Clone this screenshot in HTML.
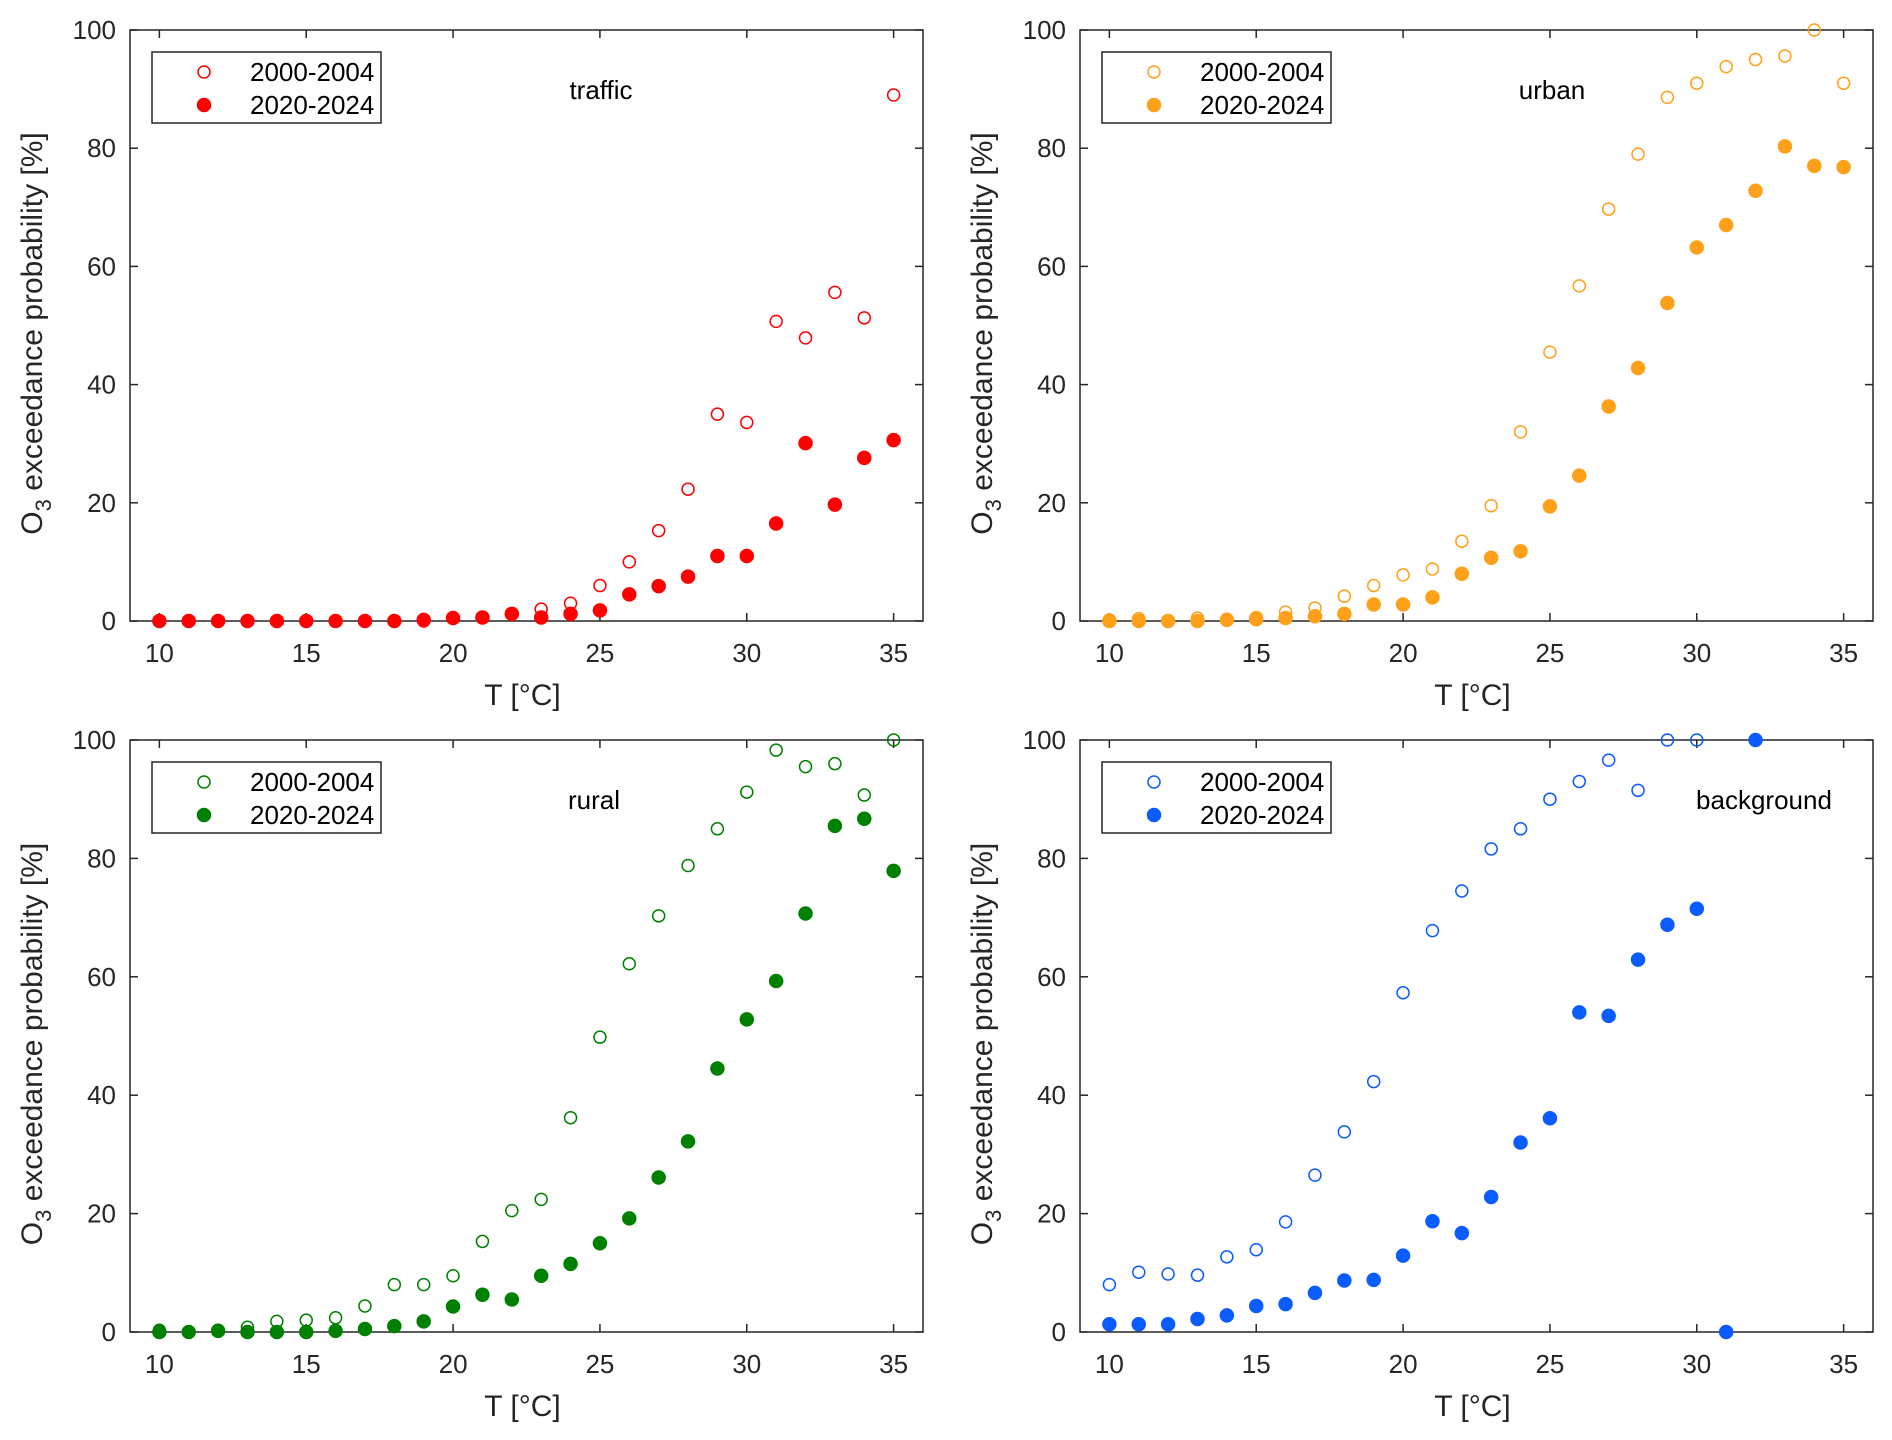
<!DOCTYPE html>
<html><head><meta charset="utf-8"><style>
html,body{margin:0;padding:0;background:#fff;}
svg{display:block;font-family:"Liberation Sans",sans-serif;}
</style></head><body>
<svg id="fig" width="1892" height="1440" viewBox="0 0 1892 1440" xmlns="http://www.w3.org/2000/svg"></svg>
<script>
const temps = [10,11,12,13,14,15,16,17,18,19,20,21,22,23,24,25,26,27,28,29,30,31,32,33,34,35];
const xTicks = [10,15,20,25,30,35];
const yTicks = [0,20,40,60,80,100];
const legendLabels = ["2000-2004","2020-2024"];
const trafficOld = [0,0,0,0,0,0,0,0,0,0,0.5,0.6,1.2,2,3,6,10,15.3,22.3,35,33.6,50.7,47.9,55.6,51.3,89];
const trafficNew = [0,0,0,0,0,0,0,0,0,0.2,0.5,0.6,1.2,0.6,1.2,1.8,4.5,5.9,7.5,11,11,16.5,30.1,19.7,27.6,30.6];
const urbanOld = [0.2,0.4,0,0.5,0.3,0.6,1.5,2.2,4.2,6,7.8,8.8,13.5,19.5,32,45.5,56.7,69.7,79,88.6,91,93.8,95,95.6,100,91];
const urbanNew = [0,0,0,0,0.2,0.3,0.5,0.8,1.2,2.8,2.8,4,8,10.7,11.8,19.4,24.6,36.3,42.8,53.8,63.2,67,72.8,80.3,77,76.8];
const ruralOld = [0.3,0,0.3,0.8,1.8,2,2.4,4.4,8,8,9.5,15.3,20.5,22.4,36.2,49.8,62.2,70.3,78.8,85,91.2,98.3,95.5,96,90.7,100];
const ruralNew = [0,0,0.2,0,0,0,0.2,0.5,1,1.8,4.3,6.3,5.5,9.5,11.5,15,19.2,26.1,32.2,44.5,52.8,59.3,70.7,85.5,86.7,77.9];
const bgOld = [8,10.1,9.8,9.6,12.7,13.9,18.6,26.5,33.8,42.3,57.3,67.8,74.5,81.6,85,90,93,96.6,91.5,100,100,null,null,null,null,null];
const bgNew = [1.3,1.3,1.3,2.2,2.8,4.4,4.7,6.6,8.7,8.8,12.9,18.7,16.7,22.8,32,36.1,54,53.4,62.9,68.8,71.5,0,100,null,null,null];

const NS="http://www.w3.org/2000/svg";
const svg=document.getElementById('fig');
function mk(tag,attrs,parent){const e=document.createElementNS(NS,tag);for(const k in attrs)e.setAttribute(k,attrs[k]);parent.appendChild(e);return e;}

const panels=[
 {name:'traffic',x0:130,x1:923,y0:30,y1:621,color:'#ff0000',old:trafficOld,nw:trafficNew,lx:601,ly:90},
 {name:'urban',x0:1080,x1:1873,y0:30,y1:621,color:'#ffa01a',old:urbanOld,nw:urbanNew,lx:1552,ly:90},
 {name:'rural',x0:130,x1:923,y0:740,y1:1332,color:'#008000',old:ruralOld,nw:ruralNew,lx:594,ly:800},
 {name:'background',x0:1080,x1:1873,y0:740,y1:1332,color:'#0a5cff',old:bgOld,nw:bgNew,lx:1764,ly:800}
];

panels.forEach(p=>{
  const g=mk('g',{},svg);
  
  
  const sx=v=>p.x0+(v-9)/(36-9)*(p.x1-p.x0);
  const sy=v=>p.y1-(v/100)*(p.y1-p.y0);
  const frame=mk('rect',{x:p.x0,y:p.y0,width:p.x1-p.x0,height:p.y1-p.y0,fill:'none',stroke:'#262626','stroke-width':1.5},g);
  
  
  xTicks.forEach(t=>{
    const x=sx(t);
    mk('line',{x1:x,x2:x,y1:p.y1,y2:p.y1-8,stroke:'#262626','stroke-width':1.5},g);
    mk('line',{x1:x,x2:x,y1:p.y0,y2:p.y0+8,stroke:'#262626','stroke-width':1.5},g);
    const tl=mk('text',{x:x,y:p.y1+41,'text-anchor':'middle','font-size':26,fill:'#262626'},g);
    tl.textContent=t;
    
    
  });
  yTicks.forEach(t=>{
    const y=sy(t);
    mk('line',{x1:p.x0,x2:p.x0+8,y1:y,y2:y,stroke:'#262626','stroke-width':1.5},g);
    mk('line',{x1:p.x1,x2:p.x1-8,y1:y,y2:y,stroke:'#262626','stroke-width':1.5},g);
    const tl=mk('text',{x:p.x0-14,y:y+9,'text-anchor':'end','font-size':26,fill:'#262626'},g);
    tl.textContent=t;
    
    
  });
  const xl=mk('text',{x:(p.x0+p.x1)/2-4,y:p.y1+84,'text-anchor':'middle','font-size':30,fill:'#262626'},g);
  xl.textContent='T [°C]';
  
  
  const yc=(p.y0+p.y1)/2+8;
  const yl=mk('text',{x:0,y:0,'text-anchor':'middle','font-size':30,fill:'#262626',transform:`translate(${p.x0-88},${yc}) rotate(-90)`},g);
  yl.innerHTML='O<tspan dy="9" font-size="22">3</tspan><tspan dy="-9"> exceedance probability [%]</tspan>';
  
  
  [[p.old,false],[p.nw,true]].forEach(([arr,filled])=>{
    arr.forEach((v,i)=>{
      if(v===null)return;
      const c=mk('circle',{cx:sx(temps[i]),cy:sy(v),r:filled?6.5:6,fill:filled?p.color:'none',stroke:p.color,'stroke-width':1.5},g);
      
      
    });
  });
  const lg=mk('g',{},g);
  
  
  const lx0=p.x0+22, ly0=p.y0+22;
  mk('rect',{x:lx0,y:ly0,width:229,height:71,fill:'#fff',stroke:'#262626','stroke-width':1.5},lg);
  legendLabels.forEach((lab,k)=>{
    const y=ly0+20+k*33;
    const m=mk('circle',{cx:lx0+52,cy:y,r:k?6.5:6,fill:k?p.color:'none',stroke:p.color,'stroke-width':1.5},lg);
    
    
    const t=mk('text',{x:lx0+98,y:y+9,'font-size':26,fill:'#000'},lg);
    t.textContent=lab;
    
    
  });
  const nm=mk('text',{x:p.lx,y:p.ly+9,'text-anchor':'middle','font-size':26,fill:'#000'},g);
  nm.textContent=p.name;
  
  
});
</script>
</body></html>
